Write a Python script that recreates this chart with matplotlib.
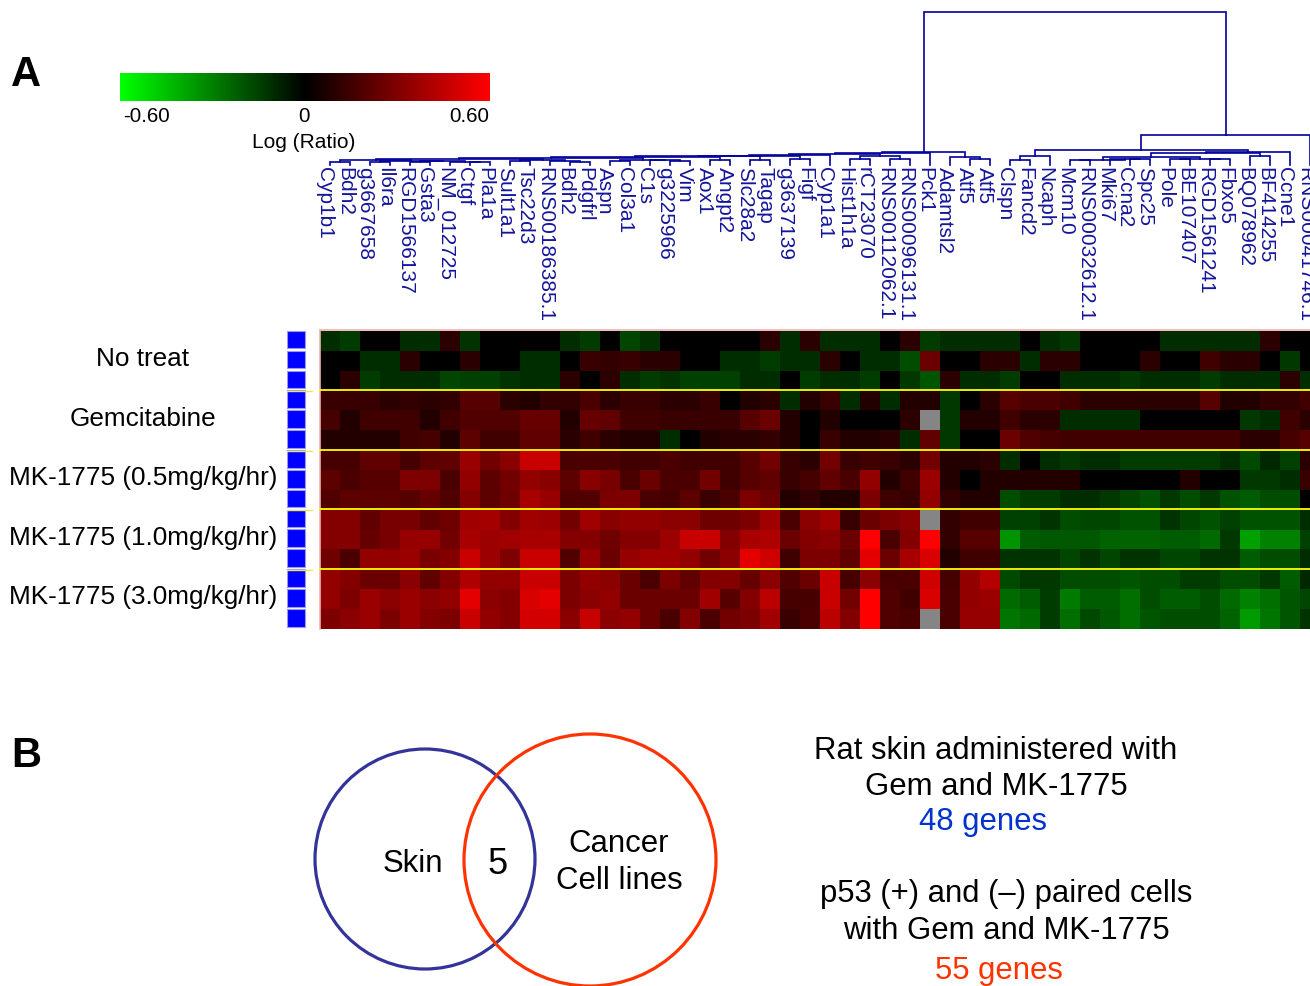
import numpy as np
import matplotlib
matplotlib.use("Agg")
import matplotlib.pyplot as plt
from matplotlib.colors import ListedColormap, LinearSegmentedColormap, Normalize
from matplotlib.patches import Circle, Rectangle

plt.rcParams['font.family'] = ['Liberation Sans', 'DejaVu Sans']

genes = ["Cyp1b1","Bdh2","g3667658","Il6ra","RGD1566137","Gsta3","NM_012725","Ctgf","Pla1a","Sult1a1",
 "Tsc22d3","RNS00186385.1","Bdh2","Pdgfrl","Aspn","Col3a1","C1s","g3225966","Vim","Aox1","Angpt2",
 "Slc28a2","Tagap","g3637139","Figf","Cyp1a1","Hist1h1a","rCT23070","RNS00112062.1","RNS00096131.1",
 "Pck1","Adamtsl2","Atf5","Atf5","Clspn","Fancd2","Ncaph","Mcm10","RNS00032612.1","Mki67","Ccna2",
 "Spc25","Pole","BE107407","RGD1561241","Fbxo5","BQ078962","BF414255","Ccne1","RNS00041746.1"]
groups = ["No treat","Gemcitabine","MK-1775 (0.5mg/kg/hr)","MK-1775 (1.0mg/kg/hr)","MK-1775 (3.0mg/kg/hr)"]
N = np.nan
r0  = [-5,-8,0,0,-5,-5,3,-6,0,0,0,0,-5,-8,0,-10, -6,0,0,0,0,0,3,-5,3,-5,-5,-5,0,3,-8,-5,-5,-5, -5,0,-5,-7,0,0,0,0,-5,-5,-5,-5,-5,3,0,0]
r1  = [0,0,-5,-5,3,0,0,3,0,0,-5,-5,0,5,4,5, 3,3,0,0,-5,-5,-8,-5,-5,3,0,-5,-5,-12,14,0,0,3, 3,-5,3,3,0,0,0,3,0,0,6,3,3,0,-7,0]
r2  = [0,3,-8,-5,-5,-5,-10,-9,-9,-6,-5,-5,3,0,3,-5, -8,-6,-9,-9,-9,-5,-5,0,-8,-5,-5,-8,0,-7,-14,3,-5,-5, -8,0,0,-5,-5,-5,-7,-5,-5,-5,-8,-5,-5,-5,3,-5]
r3  = [5,5,5,3,4,3,4,10,10,3,2,4,4,8,3,5, 5,3,3,5,0,2,3,-5,2,5,-5,2,-5,2,2,-7,0,3, 10,8,8,6,3,3,3,3,3,3,10,2,2,4,4,6]
r4  = [7,2,6,6,6,2,6,9,9,9,13,13,2,13,12,6, 6,5,5,5,5,10,14,2,0,2,0,0,0,3,N,-7,2,2, 6,3,3,-5,-5,-5,-5,0,0,0,0,0,-7,-5,6,3]
r5  = [2,2,2,2,6,7,2,11,6,6,12,12,3,6,3,2, 2,-5,0,2,3,3,4,2,0,5,2,2,3,-5,12,-7,0,0, 14,9,7,6,6,6,6,6,6,6,6,6,3,3,7,10]
r6  = [7,7,12,12,7,11,12,26,16,21,40,40,8,8,8,6, 6,8,6,6,6,10,16,5,3,16,5,6,5,3,16,2,2,3, -5,0,-5,-7,-5,-5,-8,-8,-8,-8,-8,-5,-11,-4,-9,3]
r7  = [11,8,10,10,19,19,8,24,11,16,24,21,11,21,17,8, 14,8,8,16,6,10,12,5,7,12,8,24,2,6,26,2,0,2, 2,2,2,2,0,0,0,0,0,2,0,0,-7,-7,-5,5]
r8  = [9,11,11,11,10,13,9,20,11,15,30,25,9,9,18,18, 8,7,11,5,8,18,14,2,4,2,2,18,6,5,24,4,2,2, -12,-8,-8,-5,-5,-7,-10,-13,-7,-12,-7,-13,-16,-12,-12,0]
r9  = [20,20,12,17,17,12,15,28,29,20,28,27,16,28,21,24, 24,22,22,15,15,18,28,8,22,28,5,14,18,22,N,4,6,6, -9,-9,-6,-12,-10,-10,-13,-13,-6,-10,-13,-9,-13,-13,-13,-5]
r10 = [20,20,13,17,25,25,16,30,27,28,30,30,20,20,15,20, 20,27,40,40,20,30,32,14,20,22,14,60,8,20,60,4,10,10, -35,-16,-15,-15,-15,-18,-18,-18,-16,-16,-20,-7,-40,-28,-28,-9]
r11 = [15,8,24,24,26,17,20,40,27,19,40,40,9,25,14,25, 28,28,24,16,22,50,42,6,18,18,12,50,14,30,46,2,6,6, -6,-6,-6,-10,-6,-10,-6,-6,-10,-10,-6,-6,-16,-12,-12,-5]
r12 = [24,20,14,14,22,12,20,32,24,24,40,40,18,24,22,14, 8,18,12,20,20,13,22,9,14,40,7,22,8,8,42,7,24,34, -11,-7,-7,-12,-12,-12,-14,-12,-12,-8,-8,-12,-12,-7,-16,-4]
r13 = [24,18,26,22,26,22,24,50,22,20,46,50,18,22,24,14, 14,14,14,28,10,20,36,7,7,40,16,60,9,6,46,8,24,26, -20,-16,-8,-26,-16,-16,-22,-12,-16,-16,-12,-20,-28,-22,-14,-10]
r14 = [18,22,26,18,26,20,18,40,24,20,44,44,22,40,22,24, 14,8,20,8,16,18,28,5,8,36,20,60,9,8,N,8,25,25, -24,-20,-8,-22,-11,-15,-22,-14,-12,-12,-12,-18,-38,-24,-14,-6]
rows = [r0,r1,r2,r3,r4,r5,r6,r7,r8,r9,r10,r11,r12,r13,r14]

def n(h, a, b):
    return (h, a, b)
A = n(161, n(162.5,0,1), n(161.5, n(163,2,3), n(162,n(163,4,5), n(162.5,6,n(163,7,8)))))
B = n(160, A, n(161,n(162,9,10),n(161.5,11,n(162.5,12,13))))
C = n(159, B, n(160.5,n(162,14,15),n(161,16,n(162,17,18))))
K2 = n(158, C, n(160.5,19,20))
K = n(157, K2, n(160.5,21,22))
Mm = n(156.5, K, n(160,23,24))
L = n(156, Mm, 25)
F = n(155, L, n(157,n(160,26,27),n(160,28,29)))
G = n(154, F, 30)
left_tree = n(152.5, G, n(157.5,31,n(160,32,33)))
P = n(158, n(160.5,n(161,37,38),n(160,39,n(160,40,41))), n(160,n(160,42,43),n(160,44,45)))
Q = n(154, P, n(157,46,47))
right_tree = n(151, n(157,n(161,34,35),36), n(152.5,Q,48))
root = (13, left_tree, (136, right_tree, 49))

fig = plt.figure(figsize=(13.10, 9.87), dpi=100)
ax = fig.add_axes([0, 0, 1, 1])
ax.set_axis_off()

# colour scale: transfer curve of the heat map
vv = np.linspace(-60, 60, 513)
cols = np.zeros((513, 3))
cols[:, 0] = np.where(vv > 0, (np.abs(vv)/60)**0.6, 0)
cols[:, 1] = np.where(vv < 0, 0.8*(np.abs(vv)/60)**0.6, 0)
heat = ListedColormap(cols)
heat.set_bad('#858585')
M = np.array(rows, dtype=float)
ax.imshow(np.ma.masked_invalid(M), cmap=heat, norm=Normalize(-60, 60), extent=(320, 1320, 630, 332),
          aspect='auto', interpolation='nearest', zorder=1)
ax.plot([320, 320], [331, 630], color='#f0b0b0', lw=1.2, zorder=2)
ax.plot([320, 1310], [331, 331], color='#f0b0b0', lw=1.2, zorder=2)

row_h = 298/15
for i in range(15):
    ax.add_patch(Rectangle((287, 331+i*row_h+0.8), 18, row_h-2.2, fc='#0000ff', ec='#9a9ae8', lw=0.8, zorder=2))
for k in range(1, 5):
    y = 331.5 + k*row_h*3
    ax.plot([320, 1310], [y, y], color='#ffff00', lw=1.3, zorder=3)
    ax.plot([287, 312], [y+1, y+1], color='#e8e860', lw=1.0, zorder=3)

for k, g in enumerate(groups):
    ax.text(143, 359+k*59.6, g, ha='center', va='center', fontsize=18.8, color='black')

# dendrogram
DC = '#000099'
def leaf_x(i):
    return 330 + 20*i
def draw(node):
    if not isinstance(node, tuple):
        return leaf_x(node), 166
    h, a, b = node
    xa, ya = draw(a)
    xb, yb = draw(b)
    ax.plot([xa, xa, xb, xb], [ya, h, h, yb], color=DC, lw=1.2, solid_joinstyle='miter', zorder=2)
    return (xa+xb)/2, h
draw(root)

for i, g in enumerate(genes):
    ax.text(leaf_x(i)-5.5, 167, g, rotation=270, ha='center', va='top', fontsize=15, color='#15159a', zorder=4)

# colour bar
grad = LinearSegmentedColormap.from_list('gr', ['#00ff00', '#000000', '#ff0000'])
ax.imshow(np.linspace(-0.6, 0.6, 370)[None, :], cmap=grad, extent=(120, 490, 102, 74), aspect='auto', zorder=1)
for x, t in [(146, '-0.60'), (304, '0'), (469, '0.60')]:
    ax.text(x, 117, t, ha='center', va='center', fontsize=14.8)
ax.text(304, 143, 'Log (Ratio)', ha='center', va='center', fontsize=15)

ax.text(26, 75, 'A', ha='center', va='center', fontsize=30, fontweight='bold')
ax.text(26, 756, 'B', ha='center', va='center', fontsize=30, fontweight='bold')

# Venn
ax.add_patch(Circle((425, 860), 110, fc='none', ec='#333399', lw=2.3, zorder=2))
ax.add_patch(Circle((590, 861), 126, fc='none', ec='#ff3300', lw=2.3, zorder=2))
ax.text(413, 864, 'Skin', ha='center', va='center', fontsize=22.4)
ax.text(498, 864, '5', ha='center', va='center', fontsize=26)
ax.text(619, 844, 'Cancer', ha='center', va='center', fontsize=22.4)
ax.text(619, 881, 'Cell lines', ha='center', va='center', fontsize=22.4)

ax.text(996, 751, 'Rat skin administered with', ha='center', va='center', fontsize=22.4)
ax.text(996, 787, 'Gem and MK-1775', ha='center', va='center', fontsize=22.4)
ax.text(983, 822, '48 genes', ha='center', va='center', fontsize=22.4, color='#0033cc')
ax.text(1006, 894, 'p53 (+) and (–) paired cells', ha='center', va='center', fontsize=22.4)
ax.text(1006, 931, 'with Gem and MK-1775', ha='center', va='center', fontsize=22.4)
ax.text(999, 971, '55 genes', ha='center', va='center', fontsize=22.4, color='#ff3300')

ax.set_xlim(0, 1310)
ax.set_ylim(987, 0)
fig.savefig('out.png', dpi=100, facecolor='white')
